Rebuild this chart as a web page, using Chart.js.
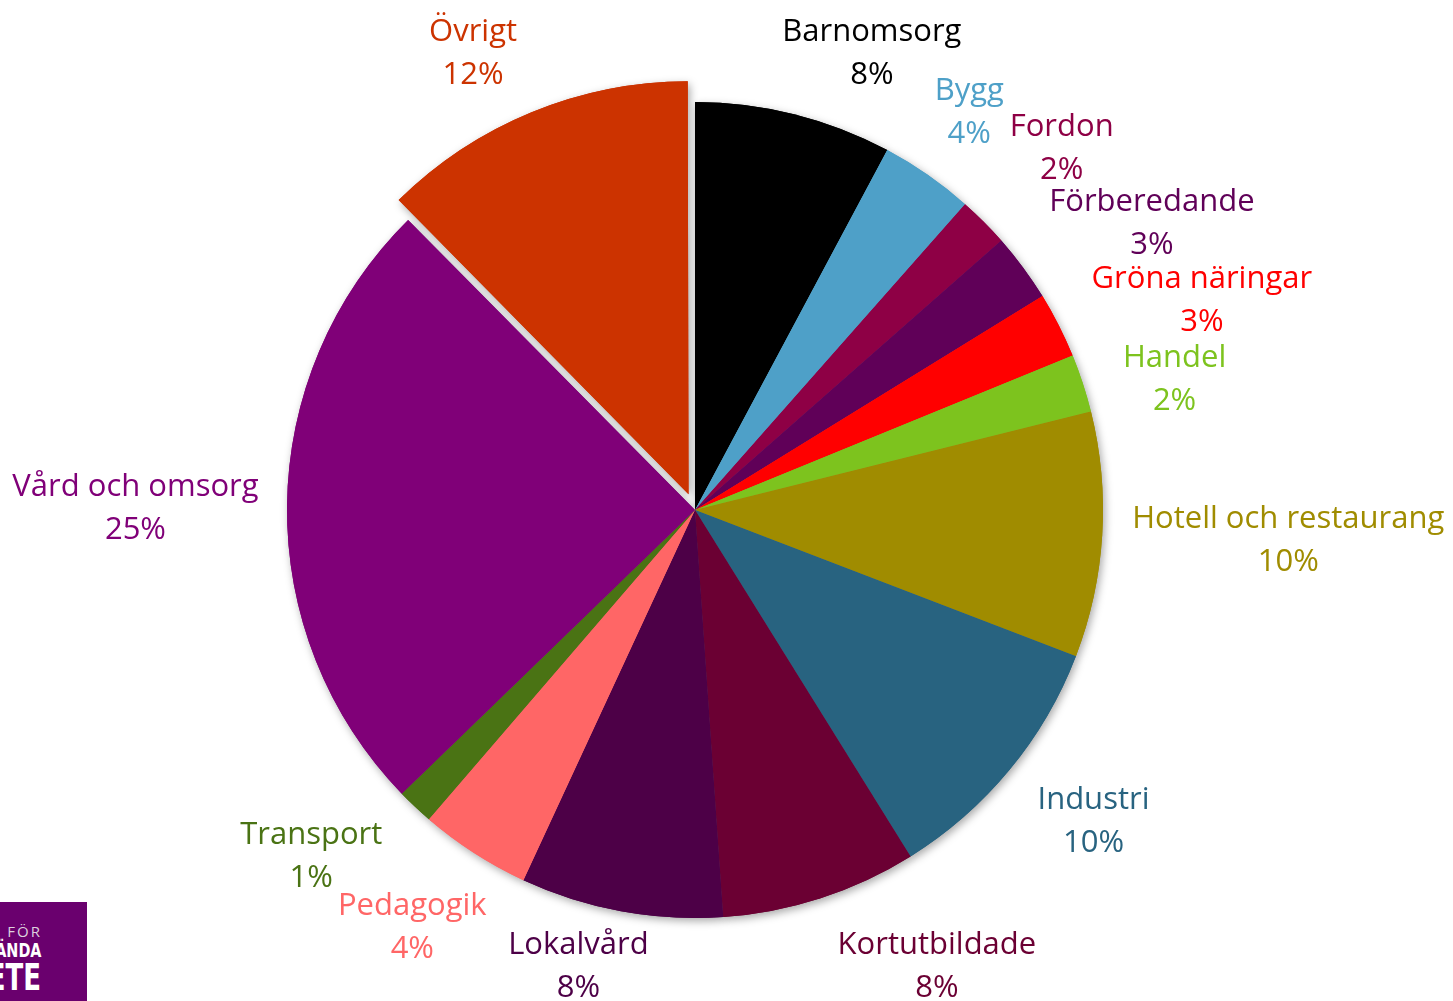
<!DOCTYPE html>
<html>
<head>
<meta charset="utf-8">
<script src="https://cdn.jsdelivr.net/npm/chart.js@4.4.1/dist/chart.umd.min.js"></script>
<style>
  html, body { margin: 0; padding: 0; background: #fff; }
  #wrap { position: relative; width: 1453px; height: 1001px; overflow: hidden; }
  #logo { position: absolute; left: 0; top: 902px; width: 87px; height: 99px; background: #6a006e; overflow: hidden; }
  #logo div { position: absolute; right: 46px; white-space: nowrap; color: #fff; font-family: "DejaVu Sans Condensed", "Liberation Sans Narrow", sans-serif; font-weight: bold; transform-origin: right top; line-height: 1; }
  #logo .l1 { top: 22px; font-size: 15px; font-weight: normal; letter-spacing: 2px; right: 45px; color: #ddd0de; font-family: "Open Sans", sans-serif; }
  #logo .l2 { top: 38px; font-size: 20px; transform: scaleX(0.8); }
  #logo .l3 { top: 57px; font-size: 37px; transform: scaleX(0.78); }
</style>
</head>
<body>
<div id="wrap">
  <canvas id="pie" width="1453" height="1001"></canvas>
  <div id="logo"><div class="l1">ARBETE FÖR</div><div class="l2">NYANLÄNDA</div><div class="l3">ARBETE</div></div>
</div>
<script>
// ── Andel per inriktning – pie ──

const categories = ['Barnomsorg','Bygg','Fordon','Förberedande','Gröna näringar','Handel','Hotell och restaurang','Industri','Kortutbildade','Lokalvård','Pedagogik','Transport','Vård och omsorg','Övrigt'];
const shares = [7.8, 3.7, 2.0, 2.7, 2.6, 2.3, 9.7, 10.3, 7.75, 8.0, 4.4, 1.45, 24.8, 12.4];
const colors = ['#000000','#4ea0c8','#8e0045','#600058','#ff0000','#7dc31e','#a08c00','#286380','#6b0033','#4d0047','#ff6666','#4a7314','#800078','#cc3300'];

// label layout: angle nudge (deg) off the slice's mid-angle and extra push outwards (px)
const labelNudge = [6.5, -0.5, 0, 4, 4, 2.3, -1, -2, -10, 3.3, 1.6, 5, 0, -3.5];
const labelPush  = [0, 0, 19, 0, 0, 5, 4, 0, 0, 0, -9, 0, 4, 0];
const explodeIdx = categories.indexOf('Övrigt');
const total = shares.reduce((a, b) => a + b, 0);
const pctLabels = shares.map(v => Math.round(v / total * 100) + '%');

const FONT = '31px "Open Sans"';
const LINE = 43;

const shadowPlugin = {
  id: 'shadow',
  beforeDatasetsDraw(chart) {
    const ctx = chart.ctx;
    ctx.save();
    ctx.shadowColor = 'rgba(0,0,0,0.35)';
    ctx.shadowBlur = 9;
    ctx.shadowOffsetX = 2;
    ctx.shadowOffsetY = 3;
    chart.getDatasetMeta(0).data.forEach(a => a.draw(ctx));
    ctx.restore();
  }
};

const labelPlugin = {
  id: 'outLabels',
  afterDatasetsDraw(chart) {
    const ctx = chart.ctx;
    const H = chart.height;
    ctx.save();
    ctx.font = FONT;
    ctx.textAlign = 'center';
    ctx.textBaseline = 'middle';
    chart.getDatasetMeta(0).data.forEach((arc, i) => {
      const p = arc.getProps(['x','y','startAngle','endAngle','outerRadius','circumference'], true);
      const mid = (p.startAngle + p.endAngle) / 2;
      // same shift ArcElement applies for offset
      const o = (arc.options.offset || 0) / 4;
      const shift = o + o * (1 - Math.sin(Math.min(Math.PI, p.circumference)));
      const ox = p.x + Math.cos(mid) * shift, oy = p.y + Math.sin(mid) * shift;
      const th = mid + labelNudge[i] * Math.PI / 180;
      const w = Math.max(ctx.measureText(categories[i]).width, ctx.measureText(pctLabels[i]).width);
      const a = w / 2, b = LINE;
      const d = p.outerRadius + 24 + labelPush[i] + Math.abs(Math.cos(th)) * a + Math.abs(Math.sin(th)) * b;
      let cx = ox + Math.cos(th) * d;
      let cy = oy + Math.sin(th) * d;
      cy = Math.min(Math.max(cy, b + 6), H - b + 4);
      cx = Math.min(cx, chart.width - a - 6);
      ctx.fillStyle = colors[i];
      ctx.fillText(categories[i], cx, cy - LINE / 2 + 5);
      ctx.fillText(pctLabels[i], cx, cy + LINE / 2 + 5);
    });
    ctx.restore();
  }
};

new Chart(document.getElementById('pie').getContext('2d'), {
  type: 'pie',
  data: {
    labels: categories,
    datasets: [{
      data: shares,
      backgroundColor: colors,
      borderWidth: 0,
      offset: shares.map((v, i) => i === explodeIdx ? 68 : 0)
    }]
  },
  options: {
    responsive: false,
    animation: false,
    radius: 408,
    layout: { padding: { left: 0, right: 63, top: 19, bottom: 0 } },
    plugins: { legend: { display: false }, tooltip: { enabled: false } }
  },
  plugins: [shadowPlugin, labelPlugin]
});
</script>
</body>
</html>
